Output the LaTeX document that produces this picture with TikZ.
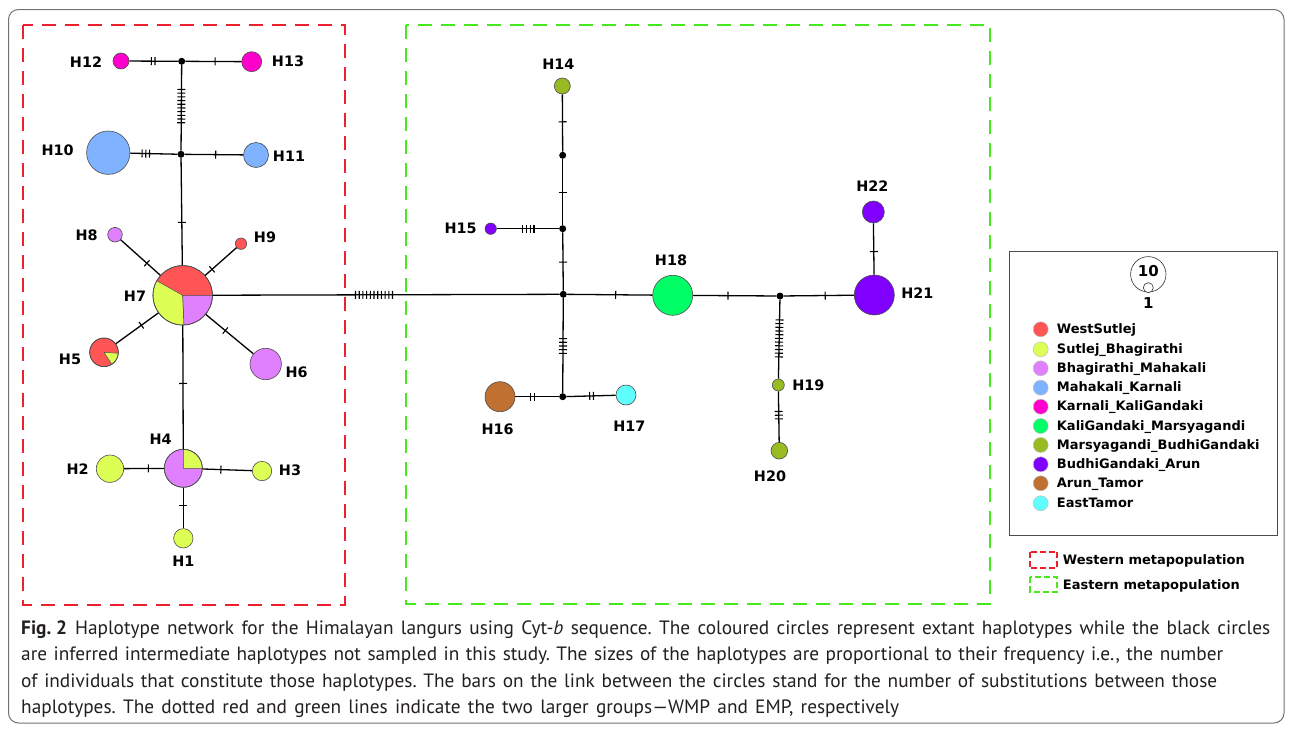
\documentclass[tikz,border=0pt]{standalone}
\usepackage{fontspec}
\newfontfamily\labfont{DejaVu Sans}
\newfontfamily\capfont[Ligatures=TeX]{PT Sans}
\definecolor{cWS}{RGB}{255,85,85}
\definecolor{cSB}{RGB}{221,255,85}
\definecolor{cBM}{RGB}{224,128,255}
\definecolor{cMK}{RGB}{128,179,255}
\definecolor{cKK}{RGB}{255,0,204}
\definecolor{cKM}{RGB}{0,255,102}
\definecolor{cMB}{RGB}{153,187,34}
\definecolor{cBA}{RGB}{127,0,255}
\definecolor{cAT}{RGB}{192,112,48}
\definecolor{cET}{RGB}{95,255,255}
\definecolor{dred}{RGB}{236,32,46}
\definecolor{dgreen}{RGB}{70,232,30}
\definecolor{capgray}{RGB}{35,31,32}
\newcommand\tkbar{\rule[-4pt]{1.1pt}{8pt}}
\newcommand\tkbars[1]{\tkbar\ifnum#1>1 \foreach\i in {2,...,#1}{\hspace{2.6pt}\tkbar}\fi}
\frenchspacing
\begin{document}
\begin{tikzpicture}[x=1pt,y=1pt,
  hap/.style={circle, draw=black!70, line width=0.6pt, inner sep=0pt, minimum size=#1*2pt},
  junc/.style={circle, fill=black, inner sep=0pt, minimum size=7pt},
  edge/.style={line width=1.3pt, black},
  tk/.style={sloped, inner sep=0pt, outer sep=0pt},
  lab/.style={font=\labfont\bfseries\fontsize{14.4}{16}\selectfont, inner sep=0pt},
  leg/.style={font=\labfont\bfseries\fontsize{13}{15}\selectfont, inner sep=0pt, anchor=base west},
  legdot/.style={circle, draw=black!25, line width=0.5pt, inner sep=0pt, minimum size=15pt},
  captext/.style={font=\capfont\fontsize{19.3}{22}\selectfont, text=capgray, inner sep=0pt, anchor=base west},
  slice/.style={draw=black!70, line width=0.5pt}
]
\useasboundingbox (0,0) rectangle (1292,-728);
\fill[white] (0,0) rectangle (1292,-728);
\draw[black!55, line width=1pt, rounded corners=10pt] (8.5,-9.5) rectangle (1284,-723);

% group boxes
\draw[dred, line width=2.6pt, dash pattern=on 14pt off 9pt] (23,-25) rectangle (345,-605);
\draw[dgreen, line width=2.6pt, dash pattern=on 14pt off 9pt] (406,-25) rectangle (990,-604);

% ---------- western nodes ----------
\node[hap=8, fill=cKK] (H12) at (121,-61) {};
\node[junc] (J1) at (181.7,-61.3) {};
\node[hap=10, fill=cKK] (H13) at (251.7,-61.7) {};
\node[hap=21.7, fill=cMK] (H10) at (108.3,-152.7) {};
\node[junc] (J2) at (181,-154.3) {};
\node[hap=12.5, fill=cMK] (H11) at (256,-155) {};
\node[hap=29.7, fill=cWS] (H7) at (182.7,-295.3) {};
\node[hap=7.3, fill=cBM] (H8) at (115,-234.7) {};
\node[hap=5.7, fill=cWS] (H9) at (241,-243.7) {};
\node[hap=14.3, fill=cWS] (H5) at (104,-352.3) {};
\node[hap=15.7, fill=cBM] (H6) at (265.7,-364) {};
\node[hap=19, fill=cBM] (H4) at (183.3,-468.3) {};
\node[hap=13.7, fill=cSB] (H2) at (110,-468.7) {};
\node[hap=9.7, fill=cSB] (H3) at (262,-471) {};
\node[hap=9.7, fill=cSB] (H1) at (183.3,-538.3) {};

% pies
\filldraw[fill=cSB, slice] (H7.center) -- ++(150.7:29.7) arc[start angle=150.7, end angle=272.6, radius=29.7] -- cycle;
\filldraw[fill=cBM, slice] (H7.center) -- ++(272.6:29.7) arc[start angle=272.6, end angle=360, radius=29.7] -- cycle;
\draw[black!70, line width=0.6pt] (H7.center) circle[radius=29.7];
\filldraw[fill=cSB, slice] (H5.center) -- ++(-57:14.3) arc[start angle=-57, end angle=-4, radius=14.3] -- cycle;
\draw[black!70, line width=0.6pt] (H5.center) circle[radius=14.3];
\filldraw[fill=cSB, slice] (H4.center) -- ++(0:19) arc[start angle=0, end angle=90, radius=19] -- cycle;
\draw[black!70, line width=0.6pt] (H4.center) circle[radius=19];

% western edges
\draw[edge] (H12) -- node[tk,pos=.49]{\tkbars{2}} (J1);
\draw[edge] (J1) -- node[tk,pos=.53]{\tkbars{1}} (H13);
\draw[edge] (J1) -- node[tk,pos=.48]{\tkbars{10}} (J2);
\draw[edge] (H10) -- node[tk,pos=.33]{\tkbars{3}} (J2);
\draw[edge] (J2) -- node[tk,pos=.53]{\tkbars{1}} (H11);
\draw[edge] (J2) -- node[tk,pos=.6]{\tkbars{1}} (H7);
\draw[edge] (H7) -- node[tk,pos=.34]{\tkbars{1}} (H8);
\draw[edge] (H7) -- node[tk,pos=.22]{\tkbars{1}} (H9);
\draw[edge] (H7) -- node[tk,pos=.40]{\tkbars{1}} (H5);
\draw[edge] (H7) -- node[tk,pos=.41]{\tkbars{1}} (H6);
\draw[edge] (H7) -- node[tk,pos=.47]{\tkbars{1}} (H4);
\draw[edge] (H4) -- node[tk,pos=.39]{\tkbars{1}} (H2);
\draw[edge] (H4) -- node[tk,pos=.37]{\tkbars{1}} (H3);
\draw[edge] (H4) -- node[tk,pos=.43]{\tkbars{1}} (H1);

% western labels
\node[lab] (lH12) at (86,-61.7) {H12};
\node[lab] (lH13) at (288,-61.7) {H13};
\node[lab] (lH10) at (57.7,-150.7) {H10};
\node[lab] (lH11) at (289,-156) {H11};
\node[lab] (lH8) at (86.7,-235) {H8};
\node[lab] (lH9) at (265,-237.3) {H9};
\node[lab] (lH7) at (135,-296) {H7};
\node[lab] (lH5) at (70,-359.3) {H5};
\node[lab] (lH6) at (296.7,-372.7) {H6};
\node[lab] (lH4) at (160.7,-439) {H4};
\node[lab] (lH2) at (77.7,-469.3) {H2};
\node[lab] (lH3) at (290,-470.7) {H3};
\node[lab] (lH1) at (183.3,-561.7) {H1};

% ---------- eastern nodes ----------
\node[junc] (C) at (563.3,-294.3) {};
\node[hap=8, fill=cMB] (H14) at (562.3,-86) {};
\node[junc] (J3) at (562.7,-155.3) {};
\node[junc] (J4) at (562.7,-228.7) {};
\node[hap=5.7, fill=cBA] (H15) at (490.7,-228.7) {};
\node[junc] (J5) at (562.7,-396.7) {};
\node[hap=15, fill=cAT] (H16) at (500,-396.7) {};
\node[hap=10, fill=cET] (H17) at (626,-395) {};
\node[hap=20, fill=cKM] (H18) at (672.7,-295.3) {};
\node[junc] (J6) at (780,-296) {};
\node[hap=20, fill=cBA] (H21) at (874.3,-295) {};
\node[hap=11, fill=cBA] (H22) at (873.3,-212) {};
\node[hap=6, fill=cMB] (H19) at (778.3,-385) {};
\node[hap=8.3, fill=cMB] (H20) at (779.3,-450.7) {};

% long link
\draw[edge] (H7) -- node[tk,pos=.465]{\tkbars{11}} (C);

% eastern edges
\draw[edge] (H14) -- node[tk,pos=.48]{\tkbars{1}} (J3);
\draw[edge] (J3) -- node[tk,pos=.51]{\tkbars{1}} (J4);
\draw[edge] (H15) -- node[tk,pos=.51]{\tkbars{4}} (J4);
\draw[edge] (J4) -- node[tk,pos=.51]{\tkbars{1}} (C);
\draw[edge] (C) -- node[tk,pos=.505]{\tkbars{5}} (J5);
\draw[edge] (H16) -- node[tk,pos=.40]{\tkbars{2}} (J5);
\draw[edge] (J5) -- node[tk,pos=.51]{\tkbars{2}} (H17);
\draw[edge] (C) -- node[tk,pos=.57]{\tkbars{1}} (H18);
\draw[edge] (H18) -- node[tk,pos=.42]{\tkbars{1}} (J6);
\draw[edge] (J6) -- node[tk,pos=.59]{\tkbars{1}} (H21);
\draw[edge] (H21) -- node[tk,pos=.45]{\tkbars{1}} (H22);
\draw[edge] (J6) -- node[tk,pos=.49]{\tkbars{11}} (H19);
\draw[edge] (H19) -- node[tk,pos=.47]{\tkbars{3}} (H20);

% eastern labels
\node[lab] (lH14) at (558.3,-64.3) {H14};
\node[lab] (lH15) at (460.7,-228.3) {H15};
\node[lab] (lH16) at (497.7,-429) {H16};
\node[lab] (lH17) at (629.3,-426) {H17};
\node[lab] (lH18) at (671,-260) {H18};
\node[lab] (lH21) at (917.3,-293.3) {H21};
\node[lab] (lH22) at (872.3,-185.7) {H22};
\node[lab] (lH19) at (808.3,-385) {H19};
\node[lab] (lH20) at (770,-476) {H20};

% ---------- legend ----------
\draw[black!70, line width=1pt] (1009.3,-251) rectangle (1277.7,-535.7);
\node[hap=17.7, fill=white, draw=black!80] (s10) at (1148.3,-274.3) {};
\node[hap=5, fill=white, draw=black!80] (s1) at (1148.3,-287.7) {};
\node[lab, font=\labfont\bfseries\fontsize{15}{17}\selectfont] (t10) at (1148.3,-271.3) {10};
\node[lab, font=\labfont\bfseries\fontsize{15}{17}\selectfont] (t1) at (1148.3,-303.3) {1};

\node[legdot, fill=cWS] (d1) at (1040.7,-329.3) {};
\node[legdot, fill=cSB] (d2) at (1040.7,-349.3) {};
\node[legdot, fill=cBM] (d3) at (1040.7,-368.3) {};
\node[legdot, fill=cMK] (d4) at (1040.7,-387.7) {};
\node[legdot, fill=cKK] (d5) at (1040.7,-406.7) {};
\node[legdot, fill=cKM] (d6) at (1040.7,-426) {};
\node[legdot, fill=cMB] (d7) at (1040.7,-445) {};
\node[legdot, fill=cBA] (d8) at (1040.7,-464.3) {};
\node[legdot, fill=cAT] (d9) at (1040.7,-483.3) {};
\node[legdot, fill=cET] (d10) at (1040.7,-503.3) {};
\node[leg] (e1) at (1056.7,-333.3) {WestSutlej};
\node[leg] (e2) at (1056.7,-353.3) {Sutlej\_Bhagirathi};
\node[leg] (e3) at (1056.7,-372.3) {Bhagirathi\_Mahakali};
\node[leg] (e4) at (1056.7,-391.7) {Mahakali\_Karnali};
\node[leg] (e5) at (1056.7,-410.7) {Karnali\_KaliGandaki};
\node[leg] (e6) at (1056.7,-430) {KaliGandaki\_Marsyagandi};
\node[leg] (e7) at (1056.7,-449) {Marsyagandi\_BudhiGandaki};
\node[leg] (e8) at (1056.7,-468.3) {BudhiGandaki\_Arun};
\node[leg] (e9) at (1056.7,-487.3) {Arun\_Tamor};
\node[leg] (e10) at (1056.7,-507.3) {EastTamor};

\draw[dred, line width=2pt, dash pattern=on 6pt off 3pt] (1030,-551.7) rectangle (1057.3,-568.3);
\draw[dgreen, line width=2pt, dash pattern=on 6pt off 3pt] (1030,-577.3) rectangle (1057.3,-591.7);
\node[leg] (g1) at (1062.7,-564.7) {Western metapopulation};
\node[leg] (g2) at (1062.7,-589) {Eastern metapopulation};

% ---------- caption ----------
\node[captext] (cap1) at (21,-634) {\makebox[1249pt][s]{\textbf{\mbox{Fig.\ 2}}\hspace{8pt}Haplotype network for the Himalayan langurs using Cyt-\textit{b} sequence. The coloured circles represent extant haplotypes while the black circles}};
\node[captext] (cap2) at (21,-660.5) {\makebox[1202pt][s]{are inferred intermediate haplotypes not sampled in this study. The sizes of the haplotypes are proportional to their frequency i.e., the number}};
\node[captext] (cap3) at (21,-687) {\makebox[1196pt][s]{of individuals that constitute those haplotypes. The bars on the link between the circles stand for the number of substitutions between those}};
\node[captext] (cap4) at (21,-713.5) {\makebox[878pt][s]{haplotypes. The dotted red and green lines indicate the two larger groups—WMP and EMP, respectively}};
\end{tikzpicture}
\end{document}
